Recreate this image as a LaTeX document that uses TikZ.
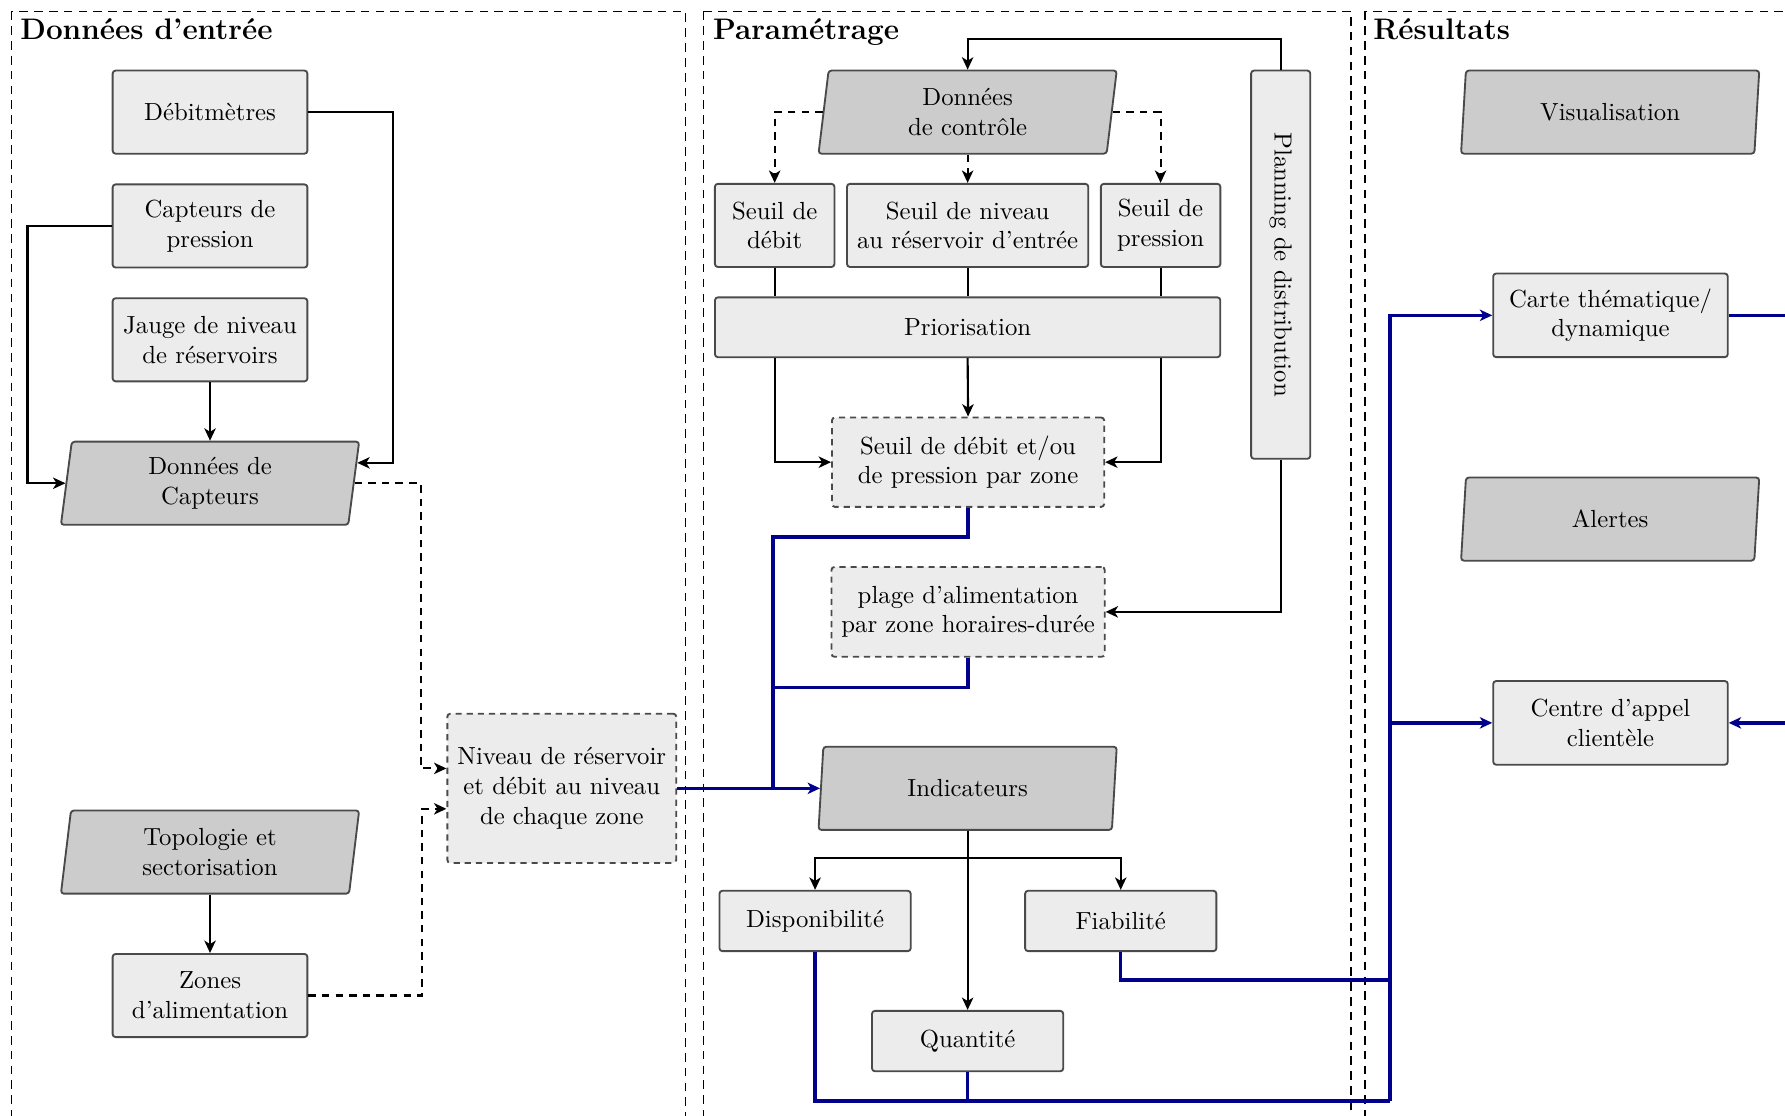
\documentclass[tikz,border=0pt]{standalone}
\usepackage{fontspec}
\usetikzlibrary{shapes.geometric,arrows.meta,calc}
\definecolor{lightc}{HTML}{ECECEC}
\definecolor{darkc}{HTML}{CCCCCC}
\definecolor{bordc}{HTML}{4A4A4A}
\definecolor{navyc}{RGB}{0,0,140}
\tikzset{
  frame/.style={draw=black, line width=0.65pt, dash pattern=on 3.5pt off 2.5pt},
  title/.style={anchor=base west, font=\large\bfseries, inner sep=0pt},
  box/.style={draw=bordc, fill=lightc, line width=0.75pt, rounded corners=1.2pt,
    align=center, inner sep=2pt, minimum height=33.6pt},
  dbox/.style={box, dash pattern=on 2.5pt off 2pt},
  para/.style={trapezium, trapezium left angle=80, trapezium right angle=100,
    trapezium stretches body, draw=bordc, fill=darkc, line width=0.75pt,
    rounded corners=1.2pt, align=center, inner sep=2pt,
    minimum width=120.5pt, minimum height=33.6pt},
  tip/.style={-{Stealth[length=5pt,width=4.6pt,inset=1.4pt]}},
  line/.style={draw=black, line width=0.85pt},
  arr/.style={line, tip},
  darr/.style={arr, dash pattern=on 3pt off 2.5pt},
  bline/.style={draw=navyc, line width=1.4pt},
  barr/.style={bline, tip},
}
\begin{document}
\begin{tikzpicture}[x=0.46pt, y=-0.46pt]
\useasboundingbox (0,0) rectangle (1568,980);
\clip (0,0) rectangle (1568,980);

% frames
\draw[frame] (10,10) rectangle (602,1010);
\draw[frame] (618,10) rectangle (1187,1010);
\draw[frame] (1199,10) rectangle (1700,1010);
\node[title] (t1) at (17.5,34.5) {Données d’entrée};
\node[title] (t2) at (626,34.5) {Paramétrage};
\node[title] (t3) at (1206,34.5) {Résultats};

% input data
\node[box, minimum width=78.7pt] (deb) at (184.5,98.5) {Débitmètres};
\node[box, minimum width=78.7pt] (cap) at (184.5,198.5) {Capteurs de\\pression};
\node[box, minimum width=78.7pt] (jau) at (184.5,298.5) {Jauge de niveau\\de réservoirs};
\node[para] (dc) at (184.5,424.5) {Données de\\Capteurs};
\node[para] (topo) at (184.5,748.5) {Topologie et\\sectorisation};
\node[box, minimum width=78.7pt] (zon) at (184.5,874.5) {Zones\\d’alimentation};
\node[dbox, minimum width=92.5pt, minimum height=60.3pt] (niv) at (493.5,692.5)
  {Niveau de réservoir\\et débit au niveau\\de chaque zone};

% parametrage
\node[para] (dcont) at (850,98.5) {Données\\de contrôle};
\node[box, minimum width=48.3pt] (sd) at (680.5,198) {Seuil de\\débit};
\node[box, minimum width=97.5pt] (sn) at (850,198) {Seuil de niveau\\au réservoir d’entrée};
\node[box, minimum width=48.3pt] (sp) at (1019.5,198) {Seuil de\\pression};
\node[box, minimum width=204.2pt, minimum height=24.2pt] (prio) at (850,287.5) {Priorisation};
\node[box, rotate=-90, minimum width=156.9pt, minimum height=23.9pt] (plan) at (1125,232.5)
  {Planning de distribution};
\node[dbox, minimum width=110pt, minimum height=36.1pt] (sz) at (850.4,406)
  {Seuil de débit et/ou\\de pression par zone};
\node[dbox, minimum width=110.4pt, minimum height=36.3pt] (pl) at (850.4,537.5)
  {plage d’alimentation\\par zone horaires-durée};
\node[para] (ind) at (850,692.5) {Indicateurs};
\node[box, minimum width=77.3pt, minimum height=24.4pt] (dispo) at (716,809) {Disponibilité};
\node[box, minimum width=77.3pt, minimum height=24.4pt] (fiab) at (984.5,809) {Fiabilité};
\node[box, minimum width=77.3pt, minimum height=24.4pt] (quant) at (850,914.5) {Quantité};

% resultats
\node[para] (vis) at (1414.4,98.5) {Visualisation};
\node[box, minimum width=94.8pt, minimum height=33.8pt] (carte) at (1414.7,277)
  {Carte thématique/\\dynamique};
\node[para] (alert) at (1414.4,456) {Alertes};
\node[box, minimum width=94.8pt, minimum height=33.8pt] (centre) at (1414.7,635)
  {Centre d’appel\\clientèle};

% helper coordinates
\coordinate (dcR) at ($(dc.top right corner)!0.26!(dc.bottom right corner)$);
\coordinate (bj) at (679,692.5);
\coordinate (bbot) at (1221,967);
\coordinate (bfia) at (1221,861);
\coordinate (offA) at (1620,277);
\coordinate (offB) at (1620,635);

% input connectors
\draw[arr] (deb.east) -- ++(74,0) |- (dcR);
\draw[arr] (cap.west) -- ++(-74,0) |- (dc.left side);
\draw[arr] (jau.south) -- (dc.center |- dc.top side);
\draw[arr] (topo.center |- topo.bottom side) -- (zon.north);
\draw[darr] (dc.right side) -- ++(58,0) |- ($(niv.west)+(0,-17.5)$);
\draw[darr] (zon.east) -- ++(100,0) |- ($(niv.west)+(0,18)$);

% parametrage connectors
\draw[arr] (plan.west) -- ++(0,-26.5) -| (dcont.center |- dcont.top side);
\draw[darr] (dcont.left side) -| (sd.north);
\draw[darr] (dcont.right side) -| (sp.north);
\draw[darr] (dcont.center |- dcont.bottom side) -- (sn.north);
\draw[line] (sd.south) -- (sd.south |- prio.north);
\draw[line] (sn.south) -- (prio.north);
\draw[line] (sp.south) -- (sp.south |- prio.north);
\draw[arr] (sd.south |- prio.south) |- (sz.west);
\draw[arr] (prio.south) -- (sz.north);
\draw[arr] (sp.south |- prio.south) |- (sz.east);
\draw[arr] (plan.east) |- (pl.east);
\draw[arr] (ind.center |- ind.bottom side) -- ++(0,24) -| (dispo.north);
\draw[arr] (ind.center |- ind.bottom side) -- ++(0,24) -| (fiab.north);
\draw[arr] (ind.center |- ind.bottom side) -- (quant.north);

% blue connectors
\draw[barr] (niv.east) -- (ind.left side);
\draw[bline] (sz.south) -- ++(0,25.5) -| (bj);
\draw[bline] (pl.south) -- ++(0,26) -| (bj);
\draw[bline] (dispo.south) |- (bbot);
\draw[bline] (quant.south) -- (quant.south |- bbot);
\draw[bline] (fiab.south) |- (bfia);
\draw[barr] (bbot) |- (carte.west);
\draw[barr] (bbot |- centre.west) -- (centre.west);
\draw[bline] (carte.east) -- (offA);
\draw[barr] (offB) -- (centre.east);
\end{tikzpicture}
\end{document}
